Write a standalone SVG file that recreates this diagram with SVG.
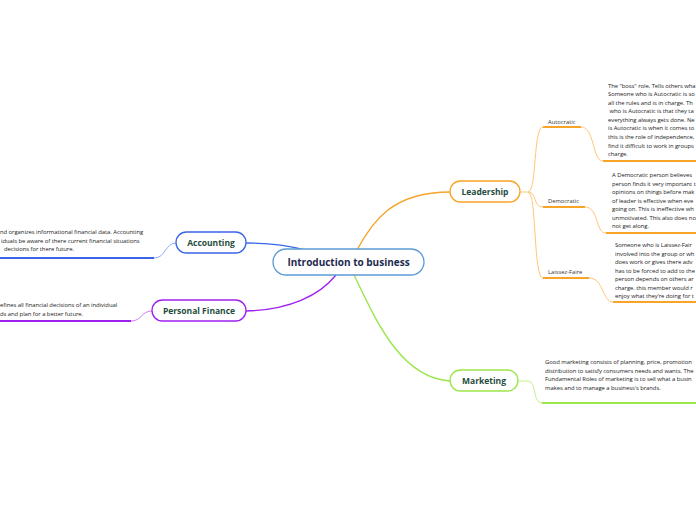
<svg xmlns="http://www.w3.org/2000/svg" width="696" height="520" viewBox="0 0 696 520">
<style>
.node{fill:#fff;stroke-width:1.3}
.lbl{font-family:"Open Sans","Noto Sans",sans-serif;font-weight:bold;font-size:8.5px;fill:#1f4d3d;text-anchor:middle}
.sub{font-family:"Open Sans","Noto Sans",sans-serif;font-size:5.8px;fill:#333}
.txt{font-family:"Open Sans","Noto Sans",sans-serif;font-size:5.9px;fill:#222;letter-spacing:-0.05px}
.thin{fill:none;stroke-width:1}
.thick{fill:none;stroke-width:1.8}
</style>
<rect width="696" height="520" fill="#fff"/>
<g id="connectors">
<path d="M357,250 C372,222 392,192 450,192" fill="none" stroke="#f7a428" stroke-width="1.4"/>
<path d="M354,275 C375,318 400,378 450,381" fill="none" stroke="#9be64b" stroke-width="1.4"/>
<path d="M305,250 C290,246 270,243 246,243" fill="none" stroke="#3a66e8" stroke-width="1.3"/>
<path d="M336,275 C320,295 290,310 246,311" fill="none" stroke="#a020f0" stroke-width="1.3"/>
<path class="thin" stroke="#fcc87a" d="M520,192 L528,192 C537,192 533,127 543,127"/>
<path class="thin" stroke="#fcc87a" d="M528,192 C537,192 533,207 543,207"/>
<path class="thin" stroke="#fcc87a" d="M528,192 C537,192 533,278 543,278"/>
<path class="thick" stroke="#f7a428" d="M543,127 L581,127"/>
<path class="thick" stroke="#f7a428" d="M543,207 L585,207"/>
<path class="thick" stroke="#f7a428" d="M543,278 L589,278"/>
<path class="thin" stroke="#fcc87a" d="M581,127 C595,127 592,161 603,161"/>
<path class="thin" stroke="#fcc87a" d="M585,207 C599,207 595,233 606,233"/>
<path class="thin" stroke="#fcc87a" d="M589,278 C604,278 602,302 613,302"/>
<path class="thick" stroke="#f7a428" d="M603,161 L696,161"/>
<path class="thick" stroke="#f7a428" d="M606,233 L696,233"/>
<path class="thick" stroke="#f7a428" d="M613,302 L696,302"/>
<path class="thin" stroke="#c4f08a" d="M518,381 L528,381 C537,381 532,403 542,403"/>
<path class="thick" stroke="#9be64b" d="M542,403 L696,403"/>
<path class="thin" stroke="#8fa9ff" d="M176,243 C165,243 166,258 154,258"/>
<path class="thick" stroke="#3a66e8" d="M154,258 L0,258"/>
<path class="thin" stroke="#c97df5" d="M152,311 C141,311 142,321 131,321"/>
<path class="thick" stroke="#a020f0" d="M131,321 L0,321"/>
</g>
<g id="central">
<rect class="node" x="273" y="249" width="151" height="26" rx="13" stroke="#5b9bd5"/>
<text x="348.5" y="265.5" font-family="'Open Sans','Noto Sans',sans-serif" font-weight="bold" font-size="10px" fill="#1e2b4f" text-anchor="middle">Introduction to business</text>
</g>
<g id="leadership">
<rect class="node" x="450" y="181" width="70" height="21" rx="10.5" stroke="#f7a428"/>
<text class="lbl" x="485" y="195">Leadership</text>
</g>
<g id="autocratic">
<text class="sub" x="548" y="124">Autocratic</text>
<text class="txt"><tspan x="608" y="87.5">The "boss" role, Tells others wha</tspan><tspan x="608" y="96">Someone who is Autocratic is so</tspan><tspan x="608" y="104.6">all the rules and is in charge. Th</tspan><tspan x="608" y="113.2"> who is Autocratic is that they ta</tspan><tspan x="608" y="121.8">everything always gets done. Ne</tspan><tspan x="608" y="130.4">is Autocratic is when it comes to</tspan><tspan x="608" y="139">this is the role of independence,</tspan><tspan x="608" y="147.6">find it difficult to work in groups</tspan><tspan x="608" y="156.2">charge.</tspan></text>
</g>
<g id="democratic">
<text class="sub" x="548" y="203">Democratic</text>
<text class="txt"><tspan x="612" y="177">A Democratic person believes</tspan><tspan x="612" y="185.5">person finds it very important t</tspan><tspan x="612" y="194">opinions on things before mak</tspan><tspan x="612" y="202.5">of leader is effective when eve</tspan><tspan x="612" y="211">going on. This is ineffective wh</tspan><tspan x="612" y="219.5">unmotivated. This also does no</tspan><tspan x="612" y="228">not get along.</tspan></text>
</g>
<g id="laissez-faire">
<text class="sub" x="548" y="274">Laissez-Faire</text>
<text class="txt"><tspan x="615" y="247">Someone who is Laissez-Fair</tspan><tspan x="615" y="255.5">involved into the group or wh</tspan><tspan x="615" y="264">does work or gives there adv</tspan><tspan x="615" y="272.5">has to be forced to add to the</tspan><tspan x="615" y="281">person depends on others ar</tspan><tspan x="615" y="289.5">charge. this member would r</tspan><tspan x="615" y="298">enjoy what they’re doing for t</tspan></text>
</g>
<g id="marketing">
<rect class="node" x="450" y="370" width="68" height="21" rx="10.5" stroke="#9be64b"/>
<text class="lbl" x="484" y="384">Marketing</text>
<text class="txt"><tspan x="545" y="364">Good marketing consists of planning, price, promotion</tspan><tspan x="545" y="372.5">distribution to satisfy consumers needs and wants. The</tspan><tspan x="545" y="381">Fundamental Roles of marketing is to sell what a busin</tspan><tspan x="545" y="389.5">makes and to manage a business's brands.</tspan></text>
</g>
<g id="accounting">
<rect class="node" x="176" y="232" width="70" height="21" rx="10.5" stroke="#3a66e8"/>
<text class="lbl" x="211" y="246">Accounting</text>
<text class="txt"><tspan x="0" y="234">nd organizes informational financial data. Accounting</tspan><tspan x="1" y="242.5">iduals be aware of there current financial situations</tspan><tspan x="4" y="251">decisions for there future.</tspan></text>
</g>
<g id="personal-finance">
<rect class="node" x="152" y="300" width="94" height="21" rx="10.5" stroke="#a020f0"/>
<text class="lbl" x="199" y="314">Personal Finance</text>
<text class="txt"><tspan x="0" y="307">efines all financial decisions of an individual</tspan><tspan x="0" y="316">ds and plan for a better future.</tspan></text>
</g>
</svg>
